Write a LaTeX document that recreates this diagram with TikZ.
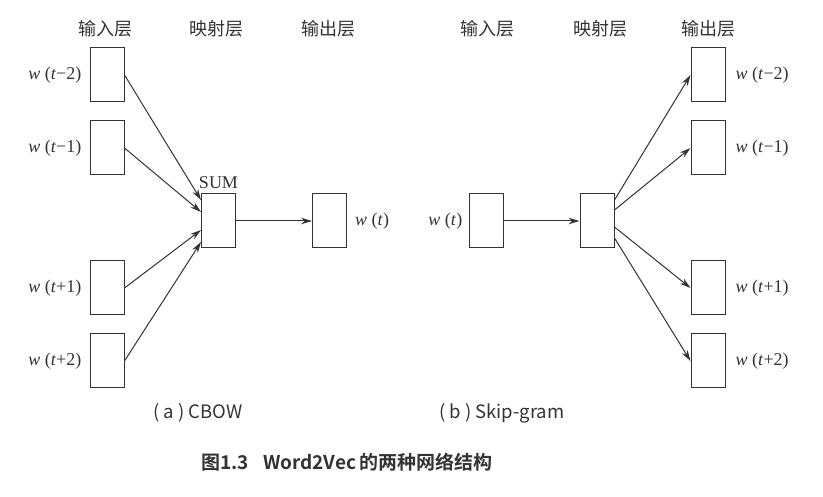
\documentclass[tikz,border=0pt]{standalone}
\usepackage{fontspec}
\setmainfont{Liberation Serif}
\newfontfamily\cjk{Noto Sans CJK SC}
\newfontfamily\cjkb{Noto Sans CJK SC Bold}
\usetikzlibrary{arrows.meta}
\definecolor{ink}{HTML}{333333}
\begin{document}
\begin{tikzpicture}[x=1pt,y=-1pt,
  box/.style={draw=ink,line width=1pt,minimum width=34pt,minimum height=54pt,inner sep=0pt},
  arr/.style={draw=ink,line width=1pt,-{Stealth[length=11pt,width=6.5pt]}},
  lab/.style={text=ink,inner sep=0pt,font=\fontsize{18}{18}\selectfont},
  head/.style={text=ink,inner sep=0pt,font=\cjk\fontsize{18}{18}\selectfont},
  subcap/.style={text=ink,inner sep=0pt,font=\cjk\fontsize{18.5}{18.5}\selectfont},
  figcap/.style={text=ink,inner sep=0pt,font=\cjkb\fontsize{19}{19}\selectfont}]
\useasboundingbox (0,0) rectangle (823,497);
% ---- left: CBOW ----
\node[head] (h1) at (105,29) {输入层};
\node[head] (h2) at (216,29) {映射层};
\node[head] (h3) at (328,29) {输出层};
\node[box] (in1) at (107,75) {};
\node[box] (in2) at (107,148) {};
\node[box] (in3) at (107,288) {};
\node[box] (in4) at (107,361) {};
\node[box] (sum) at (218.5,221) {};
\node[box] (out) at (329.5,221) {};
\node[lab,anchor=east] (l1) at ([xshift=-8pt]in1.west) {\textit{w} (\textit{t}−2)};
\node[lab,anchor=east] (l2) at ([xshift=-8pt]in2.west) {\textit{w} (\textit{t}−1)};
\node[lab,anchor=east] (l3) at ([xshift=-8pt]in3.west) {\textit{w} (\textit{t}+1)};
\node[lab,anchor=east] (l4) at ([xshift=-8pt]in4.west) {\textit{w} (\textit{t}+2)};
\node[lab,anchor=south] (sl) at ([yshift=5pt]sum.north) {SUM};
\node[lab,anchor=west] (lo) at ([xshift=8pt]out.east) {\textit{w} (\textit{t})};
\draw[arr] (in1.east) -- ([yshift=21pt]sum.west);
\draw[arr] (in2.east) -- ([yshift=9pt]sum.west);
\draw[arr] (in3.east) -- ([yshift=-9pt]sum.west);
\draw[arr] (in4.east) -- ([yshift=-21pt]sum.west);
\draw[arr] (sum.east) -- (out.west);
\node[subcap] (ca) at (198,413) {(\hspace{4pt}a\hspace{4pt})\hspace{4pt}CBOW};
% ---- right: Skip-gram ----
\node[head] (g1) at (487,29) {输入层};
\node[head] (g2) at (600,29) {映射层};
\node[head] (g3) at (708,29) {输出层};
\node[box] (rin) at (486,221) {};
\node[box] (rp) at (597,221) {};
\node[box] (ro1) at (708,75) {};
\node[box] (ro2) at (708,148) {};
\node[box] (ro3) at (708,288) {};
\node[box] (ro4) at (708,361) {};
\node[lab,anchor=east] (rl) at ([xshift=-6pt]rin.west) {\textit{w} (\textit{t})};
\node[lab,anchor=west] (r1) at ([xshift=10pt]ro1.east) {\textit{w} (\textit{t}−2)};
\node[lab,anchor=west] (r2) at ([xshift=10pt]ro2.east) {\textit{w} (\textit{t}−1)};
\node[lab,anchor=west] (r3) at ([xshift=10pt]ro3.east) {\textit{w} (\textit{t}+1)};
\node[lab,anchor=west] (r4) at ([xshift=10pt]ro4.east) {\textit{w} (\textit{t}+2)};
\draw[arr] (rin.east) -- (rp.west);
\draw[arr] ([yshift=21pt]rp.east) -- (ro1.west);
\draw[arr] ([yshift=11pt]rp.east) -- (ro2.west);
\draw[arr] ([yshift=-6pt]rp.east) -- (ro3.west);
\draw[arr] ([yshift=-17pt]rp.east) -- (ro4.west);
\node[subcap] (cb) at (502,413) {(\hspace{4pt}b\hspace{4pt})\hspace{4pt}Skip-gram};
% ---- caption ----
\node[figcap] (fc) at (347,462) {图1.3\hspace{14pt}Word2Vec\hspace{3pt}的两种网络结构};
\end{tikzpicture}
\end{document}
